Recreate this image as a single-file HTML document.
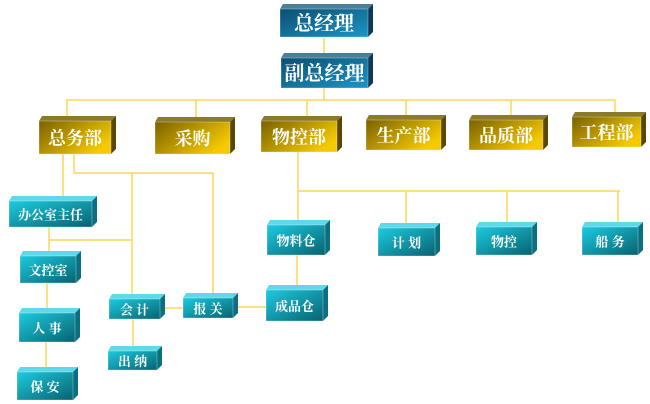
<!DOCTYPE html>
<html><head><meta charset="utf-8"><style>
html,body{margin:0;padding:0;background:#fff;}
svg{display:block;}
text{font-family:"Liberation Serif","Noto Serif CJK SC",serif;font-weight:bold;fill:#fff;text-anchor:middle;dominant-baseline:central;}
</style></head><body>
<svg width="650" height="404" viewBox="0 0 650 404" xmlns="http://www.w3.org/2000/svg">
<defs>
<linearGradient id="gb" x1="0" y1="0" x2="1" y2="1"><stop offset="0" stop-color="#0b4f70"/><stop offset="1" stop-color="#1d95c6"/></linearGradient>
<linearGradient id="gg" x1="0" y1="0" x2="1" y2="0.6"><stop offset="0" stop-color="#7a6200"/><stop offset="1" stop-color="#f6ca00"/></linearGradient>
<linearGradient id="gc" x1="0" y1="0" x2="1" y2="1"><stop offset="0" stop-color="#1ccbe0"/><stop offset="1" stop-color="#086270"/></linearGradient>
</defs>
<g stroke="#fcd65a" stroke-width="1.5" fill="none">
<line x1="324" y1="37" x2="324" y2="58"/>
<line x1="324" y1="88" x2="324" y2="100"/>
<polyline points="67,121 67,100 615,100 615,117"/>
<line x1="196" y1="100" x2="196" y2="122"/>
<line x1="307" y1="100" x2="307" y2="121"/>
<line x1="406" y1="100" x2="406" y2="120"/>
<line x1="511" y1="100" x2="511" y2="120"/>
<line x1="63" y1="154" x2="63" y2="201"/>
<polyline points="74,154 74,173 213,173 213,298"/>
<line x1="132" y1="173" x2="132" y2="299"/>
<polyline points="49,227 49,256"/>
<line x1="49" y1="240" x2="132" y2="240"/>
<line x1="47" y1="283" x2="47" y2="313"/>
<line x1="46" y1="342" x2="46" y2="372"/>
<line x1="133" y1="319" x2="133" y2="351"/>
<line x1="160" y1="308" x2="183" y2="308"/>
<line x1="233" y1="307" x2="266" y2="307"/>
<line x1="298" y1="152" x2="298" y2="225"/>
<line x1="298" y1="191" x2="620" y2="191"/>
<line x1="406" y1="191" x2="406" y2="228"/>
<line x1="507" y1="191" x2="507" y2="227"/>
<line x1="618" y1="191" x2="618" y2="227"/>
<line x1="297" y1="255" x2="297" y2="290"/>
</g>
<g id="boxes"></g>
</svg>
<script>
const boxes=[
["总经理",280,9,88,28,"gb","#4a7f9c","#0a3a55",20],
["副总经理",281,58,87,30,"gb","#4a7f9c","#0a3a55",20],
["总务部",39,121,72,33,"gg","#8a7a2a","#5a4800",18],
["采购",155,122,75,32,"gg","#8a7a2a","#5a4800",18],
["物控部",261,121,76,31,"gg","#8a7a2a","#5a4800",18],
["生产部",366,120,75,30,"gg","#8a7a2a","#5a4800",18],
["品质部",469,120,74,30,"gg","#8a7a2a","#5a4800",18],
["工程部",572,117,69,30,"gg","#8a7a2a","#5a4800",18],
["办公室主任",9,201,83,26,"gc","#5fd8ea","#0a6f80",13],
["文控室",20,256,56,27,"gc","#5fd8ea","#0a6f80",13],
["人 事",19,313,56,29,"gc","#5fd8ea","#0a6f80",13],
["保 安",17,372,56,28,"gc","#5fd8ea","#0a6f80",13],
["会 计",109,299,51,20,"gc","#5fd8ea","#0a6f80",13],
["出 纳",108,351,49,19,"gc","#5fd8ea","#0a6f80",13],
["报 关",183,298,50,20,"gc","#5fd8ea","#0a6f80",13],
["成品仓",266,290,57,31,"gc","#5fd8ea","#0a6f80",13],
["物料仓",267,225,58,30,"gc","#5fd8ea","#0a6f80",13],
["计 划",378,228,57,28,"gc","#5fd8ea","#0a6f80",13],
["物控",476,227,56,28,"gc","#5fd8ea","#0a6f80",13],
["船 务",582,227,56,28,"gc","#5fd8ea","#0a6f80",13]
];
let s="";
for(const [t,x,y,w,h,g,top,side,fs] of boxes){
 const d=5;
 s+=`<polygon points="${x+3},${y-d} ${x+w+d},${y-d} ${x+w},${y} ${x},${y}" fill="${top}"/>`;
 s+=`<polygon points="${x+w},${y} ${x+w+d},${y-d} ${x+w+d},${y+h-d} ${x+w},${y+h}" fill="${side}"/>`;
 s+=`<rect x="${x}" y="${y}" width="${w}" height="${h}" fill="url(#${g})" stroke="#ffffff" stroke-opacity="0.5" stroke-width="0.6"/>`;
 s+=`<text x="${x+w/2}" y="${y+h/2+1}" font-size="${fs}">${t}</text>`;
}
document.getElementById("boxes").innerHTML=s;
</script>
</body></html>
